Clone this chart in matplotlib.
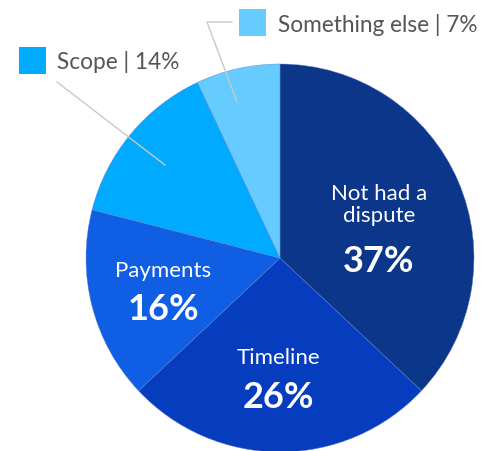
import matplotlib
matplotlib.use("Agg")
import matplotlib.pyplot as plt
from matplotlib.patches import Rectangle

plt.rcParams['font.family'] = ['Lato', 'DejaVu Sans']

categories = ["Not had a dispute", "Timeline", "Payments", "Scope", "Something else"]
values = [37, 26, 16, 14, 7]
colors = ["#0b368a", "#063dbf", "#0f5ee4", "#00aaff", "#66ccff"]

W, H = 495, 452
fig = plt.figure(figsize=(W / 100, H / 100), dpi=100)
ax = fig.add_axes([0, 0, 1, 1])

cx, cy, r = 280, H - 259, 194
ax.pie(values, colors=colors, startangle=90, counterclock=False,
       center=(cx, cy), radius=r, frame=True,
       wedgeprops=dict(linewidth=0.3, edgecolor="#5f7fd0"))
ax.set_xlim(0, W)
ax.set_ylim(0, H)
ax.set_aspect('equal')
ax.axis('off')

# labels inside the larger slices
inside = {
    "Not had a dispute": ("Not had a\ndispute", 379, 205, 262),
    "Timeline": ("Timeline", 278, 358, 398),
    "Payments": ("Payments", 163, 271, 310),
}
for name, (txt, x, y1, y2) in inside.items():
    v = values[categories.index(name)]
    ax.text(x, H - y1, txt, ha='center', va='center', color='white',
            fontsize=16, linespacing=1.1)
    ax.text(x, H - y2, f"{v}%", ha='center', va='center', color='white',
            fontsize=26, fontweight='bold')

# callout labels for the small slices
grey = "#555555"
line_c = "#c8c8c8"
i_scope = categories.index("Scope")
i_else = categories.index("Something else")

ax.add_patch(Rectangle((19, H - 75), 27, 27, color=colors[i_scope], lw=0))
ax.text(57, H - 62, f"Scope | {values[i_scope]}%", ha='left', va='center',
        color=grey, fontsize=16.3)
ax.plot([57, 165], [H - 83, H - 166], color=line_c, lw=1)

ax.add_patch(Rectangle((239, H - 37), 27, 27, color=colors[i_else], lw=0))
ax.text(278, H - 25, f"Something else | {values[i_else]}%", ha='left',
        va='center', color=grey, fontsize=16.3)
ax.plot([232, 207, 237], [H - 23, H - 23, H - 103], color=line_c, lw=1)

fig.savefig("out.png", dpi=100, facecolor="white")
